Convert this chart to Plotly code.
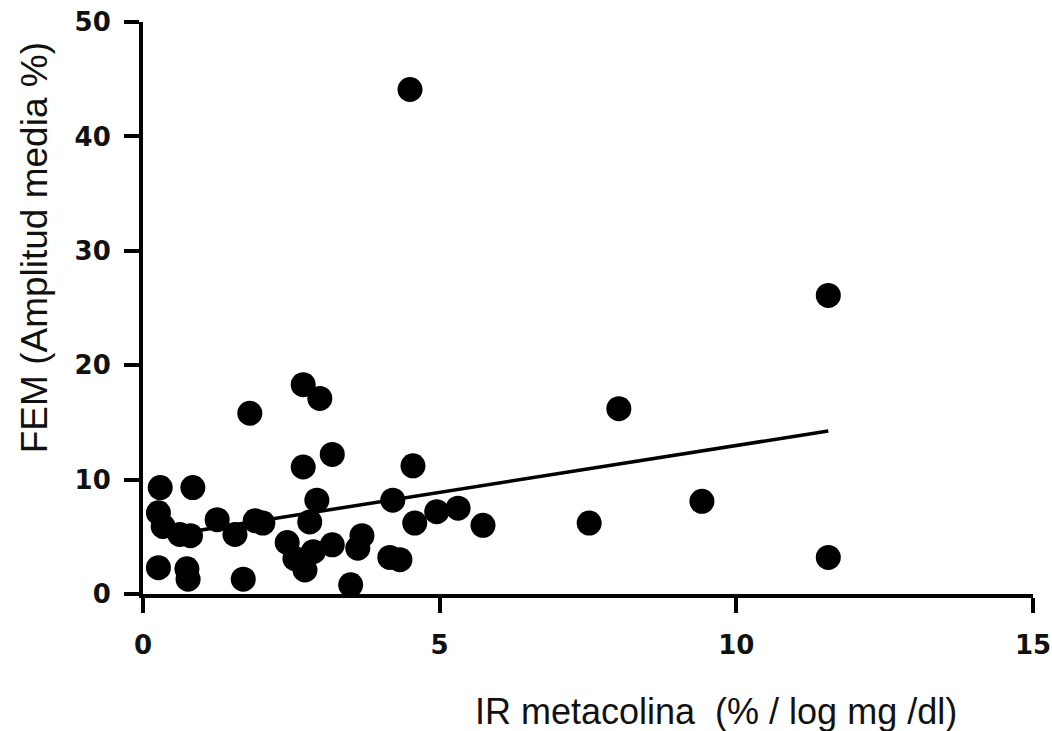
import plotly.graph_objects as go

# Data
ir_metacolina = [0.29, 0.84, 0.26, 0.34, 0.62, 0.80, 1.25, 1.55, 1.89, 2.02,
                 0.26, 0.74, 0.76, 1.69, 1.80, 2.70, 2.98, 3.19, 2.70, 2.93,
                 2.81, 2.43, 2.56, 2.73, 2.87, 3.19, 3.69, 3.62, 3.50, 4.16,
                 4.33, 4.21, 4.55, 4.58, 4.95, 5.31, 5.73, 4.50, 7.52, 8.02,
                 9.42, 11.55, 11.55]
fem_amplitud = [9.3, 9.3, 7.1, 5.9, 5.2, 5.1, 6.5, 5.2, 6.4, 6.2,
                2.3, 2.2, 1.3, 1.3, 15.8, 18.3, 17.1, 12.2, 11.1, 8.2,
                6.3, 4.5, 3.1, 2.1, 3.7, 4.3, 5.1, 4.0, 0.8, 3.2,
                3.0, 8.2, 11.2, 6.2, 7.2, 7.5, 6.0, 44.1, 6.2, 16.2,
                8.1, 26.1, 3.2]

# Regression line endpoints
fit_x = [0.26, 11.55]
fit_y = [5.0, 14.25]

x_ticks = [0, 5, 10, 15]
y_ticks = [0, 10, 20, 30, 40, 50]

fig = go.Figure()
fig.add_trace(go.Scatter(
    x=ir_metacolina, y=fem_amplitud, mode="markers",
    marker=dict(color="black", size=25, line=dict(width=0)),
    cliponaxis=False, showlegend=False,
))
fig.add_trace(go.Scatter(
    x=fit_x, y=fit_y, mode="lines",
    line=dict(color="black", width=3.5),
    cliponaxis=False, showlegend=False,
))

tickfont = dict(family="DejaVu Sans, Arial, sans-serif", size=26, color="#111111")
axis_common = dict(
    showline=True, linecolor="black", linewidth=4,
    ticks="outside", ticklen=15, tickwidth=4, tickcolor="black",
    showgrid=False, zeroline=False, tickfont=tickfont, automargin=False,
)

fig.update_layout(
    width=1052, height=731,
    margin=dict(l=143, r=19, t=22, b=137, autoexpand=False),
    paper_bgcolor="white", plot_bgcolor="white",
    font=dict(family="Liberation Sans, Arial, sans-serif"),
    xaxis=dict(range=[0, 15], tickvals=x_ticks,
               ticktext=[f"<b>{v}</b>" for v in x_ticks],
               ticklabelstandoff=10, **axis_common),
    yaxis=dict(range=[0, 50], tickvals=y_ticks,
               ticktext=[f"<b>{v}</b>" for v in y_ticks],
               ticklabelstandoff=8, **axis_common),
    annotations=[
        dict(text="IR metacolina  (% / log mg /dl)", xref="paper", yref="paper",
             x=0.644, y=-0.206, xanchor="center", yanchor="middle", showarrow=False,
             font=dict(family="Liberation Sans, Arial, sans-serif", size=36, color="#111111")),
        dict(text="FEM (Amplitud media %)", xref="paper", yref="paper",
             x=-0.121, y=0.605, xanchor="center", yanchor="middle", showarrow=False,
             textangle=-90,
             font=dict(family="Liberation Sans, Arial, sans-serif", size=37, color="#111111")),
    ],
)

fig.write_html("out.html")
